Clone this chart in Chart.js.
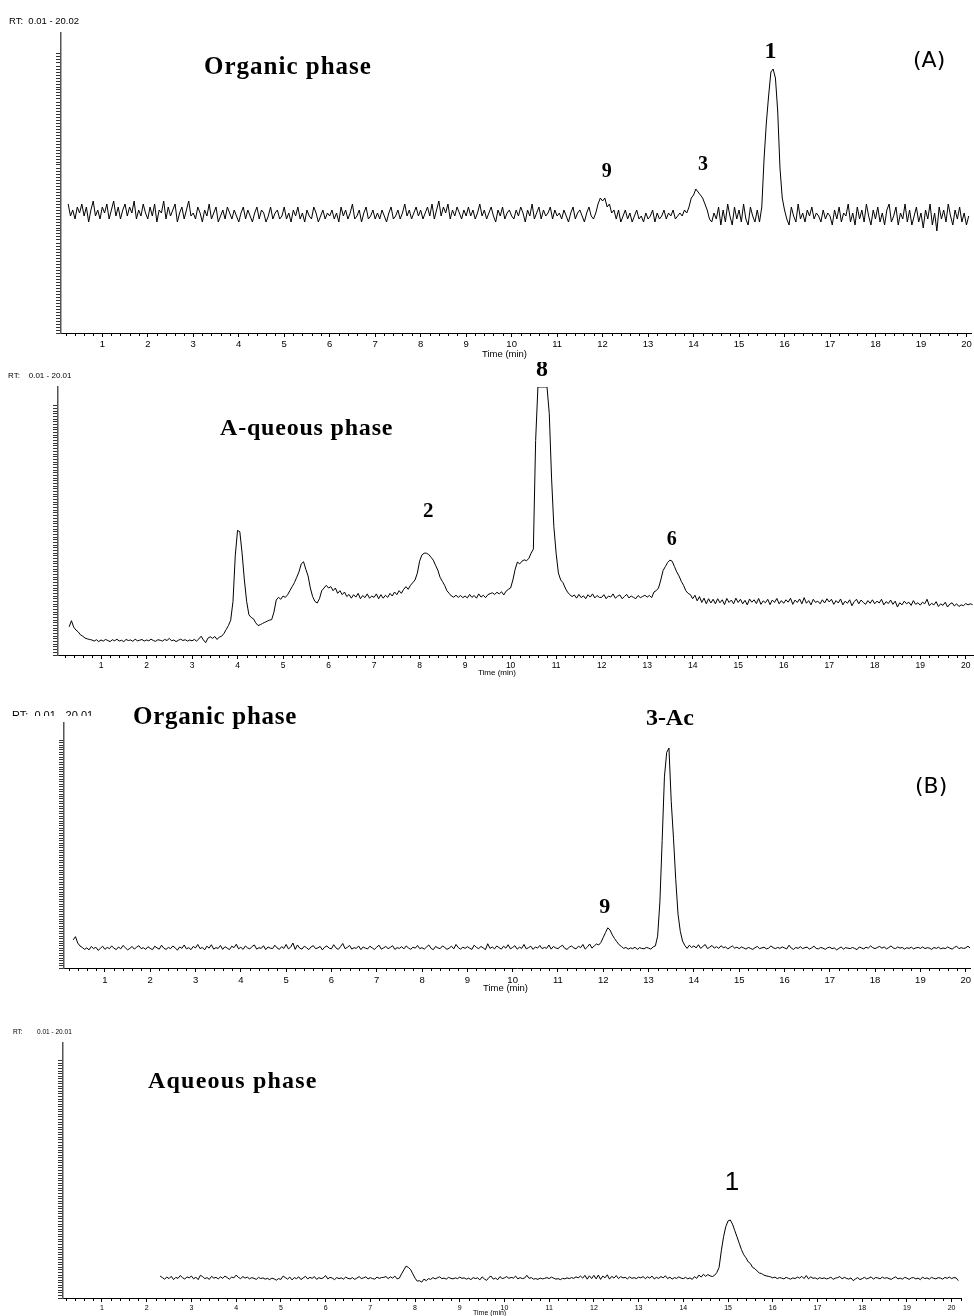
<!DOCTYPE html>
<html><head><meta charset="utf-8">
<script src="https://cdn.jsdelivr.net/npm/chart.js@4.4.1/dist/chart.umd.min.js"></script>
<style>
html,body{margin:0;padding:0;background:#fff;}
#wrap{position:relative;width:974px;height:1316px;overflow:hidden;background:#fff;}
canvas{position:absolute;left:0;}
</style></head><body>
<div id="wrap">
<canvas id="c1" width="974" height="362" style="top:0px"></canvas>
<canvas id="c2" width="974" height="318" style="top:362px"></canvas>
<canvas id="c3" width="974" height="298" style="top:700px"></canvas>
<canvas id="c4" width="974" height="308" style="top:1008px"></canvas>
</div>
<script>
// ---------------- DATA ----------------
// sampling step (min) shared by all traces
const STEP = 0.05;
// x tick labels (Time, min)
const timeTicks = [1,2,3,4,5,6,7,8,9,10,11,12,13,14,15,16,17,18,19,20];

// (A) Organic phase: relative abundance, starting at 0.25 min
const orgA_start = 0.25;
const orgA = [
43,39,41,38,42,40,43,39,42,37,41,44,39,41,38,
42,40,43,38,41,44,39,42,38,41,43,39,42,40,44,38,41,39,43,40,
38,42,39,43,37,41,40,44,38,42,39,41,43,37,40,42,38,41,44,39,
40,38,42,40,37,41,39,43,38,40,42,37,39,41,38,42,40,38,41,39,
37,40,42,38,41,39,37,40,42,38,41,40,37,39,42,38,40,41,38,39,
42,38,40,37,41,39,42,38,40,37,41,39,38,42,40,37,39,41,38,40,
39,41,38,40,37,42,39,41,38,40,43,38,39,41,37,40,42,38,39,41,
38,40,38,41,39,37,40,42,38,39,41,38,40,43,39,41,38,40,42,39,
41,38,40,42,39,43,38,41,44,39,42,40,43,38,41,39,42,40,38,41,
39,42,39,41,38,40,43,39,41,38,40,42,39,37,41,39,42,38,40,41,
39,38,41,39,42,40,37,41,39,43,38,40,42,38,41,39,40,42,38,41,
39,40,38,41,39,37,40,42,38,40,41,39,37,40,42,39,38,40,43,45,
44,45,42,43,40,41,38,41,37,39,41,38,40,37,39,41,38,39,37,40,
38,39,41,37,40,38,39,41,38,40,39,41,38,39,40,39,41,40,42,45,
46,48,47,46,45,43,41,38,37,40,38,42,36,41,37,43,39,36,42,38,
41,37,43,38,36,42,39,37,41,37,42,58,70,79,87,88,85,74,55,45,
41,38,36,42,39,37,43,38,40,37,41,39,42,38,40,39,37,41,38,40,
39,36,41,38,42,37,40,39,43,37,40,36,42,38,41,37,43,39,36,41,
38,42,37,40,36,41,43,37,39,42,36,40,38,43,37,41,36,39,42,37,
40,35,41,38,43,36,40,34,42,38,41,37,43,39,36,41,38,42,37,40,
36,39
];

// (A) Aqueous phase, starting at 0.30 min (peak 8 is off-scale)
const aqA_start = 0.30;
const aqA = [
10.5,12.8,10.4,9.3,8.6,7.5,7.0,6.3,6.0,5.8,5.6,5.2,5.7,5.0,
5.6,5.2,5.8,5.4,5.0,5.7,5.3,5.9,5.2,5.5,5.0,5.8,5.4,5.6,5.1,5.9,5.3,5.5,5.8,5.2,
5.6,5.3,5.9,5.4,5.1,5.7,5.5,5.2,5.8,5.4,6.2,5.3,5.6,5.0,5.5,5.9,5.4,5.7,5.2,5.6,
5.3,5.8,5.2,6.0,7.0,5.6,4.6,6.3,6.8,6.2,6.9,5.8,6.7,7.0,8.0,9.5,11,13,20,37,
46.5,46,38,28,20,15,14,13.5,12,11,11.3,11.8,12.2,12.6,13,13.2,16,20.5,21.5,20.8,
22,21.5,22.5,24,25.5,27,29,31,34,34.8,32,29.5,25,21.8,20,19.4,21,24,25,26,
25,25.5,24,25,23,24,22.5,23.5,21.8,22.6,21.2,22.5,21.6,23,21,22.2,21.4,22.8,21.2,22,
21.5,22.8,21,22.5,21.2,22.3,21.5,23,22,23.5,22.5,24,23,24.5,25.5,24.5,26,27,28,30.5,
35,37.3,38,38,37.5,36.5,35.4,33.5,31.7,29,27.5,26,24,23,22,21.6,22.3,21.5,22.2,21.4,
22,21.3,22.6,21.5,22.2,21.2,22.8,21.6,22.3,21.4,22.5,22.9,23.2,22.6,23.4,22.8,23.6,22.4,23.8,24.5,
25,28,32,34.7,34,35,35.5,35.2,36,38,39.5,80,100,100,100,100,100,90,66,48,
38,30.6,28,27,25,23.5,22.5,21.8,22.4,21.2,22.6,21.4,22.1,21,22.5,21.6,22.8,21.3,22.2,21.5,
21.5,22.5,21,22,21.6,22.8,21.2,21.9,22.4,21,21.8,22.6,21.3,22,21.5,21,22.2,21.4,21.8,22.3,
21.6,22.2,21.4,23.5,24,25,28,31.5,33,34.5,35.4,35,33,31,29.5,27.5,26,24,23,22.5,
21,22.3,20.2,21.8,19.6,21.2,19.1,21,19.4,20.8,19.1,21,19.5,20.6,18.8,21.1,19.6,20.5,19.1,21.2,
19.6,20.8,19.1,20.4,18.7,20.9,19.7,20.6,19.2,21.1,18.9,20.2,19.5,20.8,18.8,20.5,19.6,21.1,19.1,20.3,
19.3,20.6,19.7,21.2,18.9,20.5,19.6,20.9,19.1,21.4,19.3,20.3,18.7,20.8,19.6,20.1,19.1,20.6,19.4,21,
19.8,20.8,18.9,20.3,19.4,20.9,18.7,20.1,19.3,20.6,18.4,19.9,20.8,19.1,20.5,19.6,18.9,20.3,19.3,20.6,
19.1,20.1,19.4,20.8,18.7,19.9,19.2,20.5,18.9,20.1,17.9,19.5,18.7,20.1,19.1,19.7,18.5,20.3,18.9,19.5,
18.6,19.7,19.1,20.8,18.4,19.3,18.7,19.9,18.1,19.1,18.5,19.7,17.9,19,19.5,18.3,19.1,18.1,18.7,18.4,
19.2,18.7,19.1,18.8
];

// (B) Organic phase, starting at 0.30 min
const orgB_start = 0.30;
const orgB = [
11.5,12.8,10.2,9.0,8.4,7.6,8.2,7.4,8.8,7.9,8.5,7.2,8.0,8.9,
7.6,8.4,7.9,9.0,8.1,7.5,8.6,7.8,9.2,8.3,7.4,8.0,8.8,7.7,8.5,9.1,7.9,8.3,7.6,8.7,
8.0,7.5,8.9,8.2,7.7,9.3,8.1,7.6,8.4,7.9,9.0,8.2,7.3,8.6,8.0,9.4,7.8,8.3,7.5,8.8,
8.2,9.6,7.9,8.4,7.4,8.9,8.1,9.5,7.7,8.3,8.0,9.2,7.6,8.7,8.1,7.5,8.9,8.3,9.7,7.8,
8.5,7.6,9.0,8.2,7.8,8.8,9.4,7.7,8.3,8.0,9.1,7.5,8.6,8.1,7.9,9.3,8.2,7.6,8.7,8.0,
9.6,7.8,8.5,10.2,7.6,9.4,8.1,7.7,8.9,8.3,7.5,8.6,9.1,7.9,8.2,8.8,7.4,8.5,9.0,8.1,
7.8,9.5,8.2,7.6,8.7,10.0,7.9,8.4,9.2,7.7,8.3,8.0,9.0,7.5,8.6,8.1,7.8,8.9,8.2,7.6,
8.5,9.3,7.7,8.2,8.8,7.9,8.4,9.1,7.6,8.3,8.0,8.7,7.8,9.0,8.2,7.6,8.5,8.1,9.2,7.9,
8.3,7.7,8.6,9.4,8.0,7.5,8.8,8.2,7.9,9.0,8.4,7.6,8.1,8.9,7.8,9.6,8.3,7.7,8.5,8.0,
8.7,8.1,7.6,9.3,8.4,7.9,8.8,8.2,7.5,9.9,8.0,8.6,7.8,9.0,8.3,7.7,8.9,8.1,9.5,7.8,
8.4,9.1,7.7,8.5,8.0,9.6,7.8,8.3,8.9,7.6,8.6,8.1,9.2,7.9,8.4,8.0,9.4,7.7,8.8,8.2,
7.9,8.7,9.3,8.0,7.6,8.5,9.0,8.2,7.8,8.9,8.3,9.6,7.7,8.6,9.8,8.1,9.0,9.8,9.4,10.5,
12.5,14.5,16.4,15.5,13.5,12.0,10.7,9.5,8.8,8.0,8.4,7.7,8.2,7.9,8.5,7.6,8.3,8.0,7.8,8.4,
8.1,7.7,8.6,9.0,13,27,52,78,88,89.8,68,53,36,22,15,11,9.2,8.0,9.3,8.4,
9.0,8.2,9.5,8.0,8.8,9.6,7.9,8.5,9.2,8.1,8.7,8.0,9.1,8.3,8.6,7.8,8.4,9.0,8.1,8.5,
7.9,8.6,8.2,7.7,8.4,8.0,7.6,8.3,8.8,7.9,8.2,8.5,7.8,8.1,9.0,8.3,7.9,8.4,8.0,8.6,
8.2,7.8,9.3,8.1,7.6,8.4,8.0,8.7,7.9,8.3,8.5,7.7,8.2,8.9,8.0,7.8,8.4,8.1,7.6,8.3,
8.5,7.9,8.2,7.4,8.0,8.6,7.7,8.3,8.1,7.9,8.4,8.0,7.5,8.6,8.2,7.8,8.5,8.1,9.0,8.3,
7.9,8.4,8.8,8.1,8.6,7.8,8.3,9.0,8.2,7.9,8.6,8.1,8.4,7.7,8.3,8.0,8.5,7.8,8.2,8.4,
8.0,8.6,7.9,8.3,8.1,7.6,8.4,8.0,8.5,7.8,8.2,7.9,8.6,8.1,7.7,8.4,8.9,7.9,8.3,8.0,
8.2,8.9,8.1
];

// (B) Aqueous phase, starting at 2.30 min
const aqB_start = 2.30;
const aqB = [
8.6,8.0,7.4,8.2,7.6,8.5,7.2,8.1,7.7,8.8,8.0,7.4,8.3,7.9,
8.6,7.5,8.2,7.2,8.9,8.4,7.6,8.0,7.3,8.5,7.8,8.1,7.5,8.3,7.7,8.6,8.0,7.4,8.2,7.9,
9.0,8.1,7.6,8.4,7.8,8.2,7.5,8.0,7.7,7.3,8.1,7.6,7.9,7.4,7.7,7.2,7.8,7.5,7.0,7.6,
7.3,8.6,8.0,7.4,8.2,7.1,8.0,7.6,8.3,7.2,7.9,8.5,7.5,8.1,7.7,8.4,7.3,8.0,7.6,7.9,
8.8,7.5,8.1,7.8,7.2,8.0,7.6,7.9,7.4,8.2,7.7,7.5,8.0,7.3,7.8,8.4,7.6,7.9,8.3,7.5,
8.0,7.6,7.4,8.2,7.7,8.0,8.1,8.4,7.6,8.3,7.8,8.6,7.5,7.8,9.5,11,12.5,12,11.2,9.5,
7.8,6.6,6.8,6.2,7.4,6.8,7.6,7.3,8.0,7.5,7.9,8.3,7.6,7.8,7.4,8.1,7.7,7.5,7.9,7.6,
8.2,7.7,7.9,7.4,7.8,7.2,8.0,7.6,7.9,7.1,8.3,7.5,6.9,8.0,8.6,7.4,7.8,7.2,8.4,7.6,
7.9,8.4,7.7,8.1,7.8,8.6,7.5,8.0,7.6,7.8,8.9,7.7,8.0,7.4,7.6,7.3,7.8,7.5,7.7,8.0,
7.6,8.2,7.8,7.4,7.6,7.2,7.7,7.5,7.9,7.6,8.0,7.7,8.3,7.9,8.6,7.8,8.9,7.4,8.7,7.6,
8.9,7.5,9.0,7.3,8.6,7.9,9.1,7.4,8.5,7.8,8.8,7.6,8.4,7.9,8.1,7.5,8.3,7.7,8.0,7.6,
8.2,7.9,8.4,7.6,8.3,7.8,8.6,7.5,8.1,7.7,8.4,7.9,8.7,7.6,8.2,7.4,8.0,7.7,8.3,7.8,
7.6,8.1,7.5,7.9,7.3,8.4,7.7,9.0,8.2,9.3,8.5,9.2,8.7,8.4,8.9,10,12,18.5,24,28,
30.2,30.6,29,26.5,24,21.5,19,17,15.8,14.2,13.5,12,11.5,10.6,9.8,9.6,9.0,8.7,8.5,8.3,
7.9,8.2,7.6,8.0,7.8,7.5,8.1,7.7,7.4,7.9,7.6,8.2,7.8,8.5,7.6,8.8,7.5,8.3,7.7,7.9,
7.4,8.0,7.6,7.9,7.5,7.7,8.2,7.3,7.8,8.0,8.4,7.5,8.1,7.7,7.4,7.9,6.8,7.5,8.0,7.2,
7.6,8.1,7.5,7.8,8.3,7.4,8.0,7.9,7.5,8.2,7.7,8.0,7.6,7.3,7.9,8.3,7.5,7.8,7.4,8.1,
7.8,7.3,7.9,8.0,7.5,7.8,7.2,8.2,7.6,7.9,7.4,8.1,7.7,7.5,8.0,7.8,7.4,8.1,7.7,8.2,
7.6,8.0,7.9,6.8
];

// ---------------- RENDERING ----------------
const SERIF = '"Liberation Serif", "Times New Roman", serif';
const SANS = '"Liberation Sans", Arial, sans-serif';
const DSANS = '"DejaVu Sans", "Liberation Sans", sans-serif';

function sampleTimes(start, n) {
  return Array.from({length: n}, (_, i) => Math.round((start + i * STEP) * 100) / 100);
}

function makeOverlay(texts, minorLen) {
  return {
    id: 'overlay',
    afterDraw(chart) {
      const ctx = chart.ctx, xs = chart.scales.x, ys = chart.scales.y;
      ctx.save();
      ctx.strokeStyle = '#000';
      ctx.lineWidth = 1;
      ctx.beginPath();
      for (let k = Math.ceil(xs.min * 5 - 1e-9); k <= xs.max * 5 + 1e-9; k++) {
        if (k % 5 === 0) continue;
        const px = Math.round(xs.getPixelForValue(k / 5)) + 0.5;
        ctx.moveTo(px, xs.top);
        ctx.lineTo(px, xs.top + minorLen);
      }
      ctx.stroke();
      for (const it of texts) {
        ctx.save();
        ctx.font = it.font;
        ctx.fillStyle = '#000';
        ctx.textAlign = it.align || 'left';
        ctx.textBaseline = 'alphabetic';
        if ('letterSpacing' in ctx) ctx.letterSpacing = (it.ls || 0) + 'px';
        const x = it.t !== undefined ? xs.getPixelForValue(it.t) : it.x;
        const y = it.v !== undefined ? ys.getPixelForValue(it.v) : it.y;
        if (it.clipY !== undefined) { ctx.beginPath(); ctx.rect(0, 0, chart.width, it.clipY); ctx.clip(); }
        ctx.fillText(it.text, x, y);
        ctx.restore();
      }
      ctx.restore();
    }
  };
}

function build(id, vals, start, g, texts) {
  const ts = sampleTimes(start, vals.length);
  return new Chart(document.getElementById(id), {
    type: 'line',
    data: { datasets: [{
      data: ts.map((t, i) => ({x: t, y: vals[i]})),
      borderColor: '#000', borderWidth: 1, pointRadius: 0, tension: 0, fill: false
    }]},
    options: {
      responsive: false, animation: false, devicePixelRatio: 1, events: [],
      layout: { padding: { top: g.padT, left: 0, right: g.padR, bottom: 0 } },
      plugins: { legend: { display: false }, tooltip: { enabled: false } },
      scales: {
        x: {
          type: 'linear', min: g.xmin, max: g.xmax,
          afterBuildTicks: s => { s.ticks = timeTicks.filter(v => v >= s.min && v <= s.max).map(v => ({value: v})); },
          ticks: { stepSize: 1, includeBounds: false, autoSkip: false, maxRotation: 0, padding: g.tickPad,
                   color: '#000', font: { family: SANS, size: g.tickFont } },
          grid: { display: true, drawOnChartArea: false, drawTicks: true, tickLength: 4, color: '#000', lineWidth: 1 },
          border: { display: true, color: '#000', width: 1 },
          afterFit: s => { s.height = g.axisH; }
        },
        y: {
          type: 'linear', min: 0, max: 100,
          afterBuildTicks: s => { s.ticks = s.ticks.filter(t => t.value <= 93); },
          ticks: { stepSize: 1, autoSkip: false, maxTicksLimit: 1000, padding: 0,
                   callback: () => '', font: { size: 1 } },
          grid: { display: true, drawOnChartArea: false, drawTicks: true, tickLength: 5, color: '#333', lineWidth: 1 },
          border: { display: true, color: '#555', width: 1.5 },
          afterFit: s => { s.width = g.axisW; }
        }
      }
    },
    plugins: [makeOverlay(texts, 3)]
  });
}

// Panel 1: (A) organic phase
build('c1', orgA, orgA_start,
  { padT: 33, padR: 3, axisW: 61, axisH: 29, xmin: 0.092, xmax: 20.10, tickFont: 9.5, tickPad: 2 },
  [
    { text: 'RT:  0.01 - 20.02', x: 9, y: 24, font: '9.5px ' + SANS },
    { text: 'Organic phase', x: 204, y: 74, font: 'bold 25px ' + SERIF, ls: 1 },
    { text: '1', t: 15.69, v: 91.7, align: 'center', font: 'bold 24px ' + SERIF },
    { text: '9', t: 12.09, v: 52, align: 'center', font: 'bold 20px ' + SERIF },
    { text: '3', t: 14.21, v: 54.3, align: 'center', font: 'bold 20px ' + SERIF },
    { text: '(A)', x: 913, y: 67, font: '22px ' + DSANS },
    { text: 'Time (min)', x: 482, y: 357, font: '9.5px ' + SANS }
  ]);

// Panel 2: (A) aqueous phase
build('c2', aqA, aqA_start,
  { padT: 25, padR: 1, axisW: 58, axisH: 25, xmin: 0.055, xmax: 20.16, tickFont: 8.5, tickPad: 2 },
  [
    { text: 'RT:    0.01 - 20.01', x: 8, y: 16, font: '8px ' + SANS },
    { text: 'A-queous phase', x: 220, y: 73, font: 'bold 24px ' + SERIF, ls: 0.8 },
    { text: '8', t: 10.69, v: 104, align: 'center', font: 'bold 24px ' + SERIF },
    { text: '2', t: 8.19, v: 51.5, align: 'center', font: 'bold 21px ' + SERIF },
    { text: '6', t: 13.54, v: 41, align: 'center', font: 'bold 20px ' + SERIF },
    { text: 'Time (min)', x: 478, y: 313, font: '8px ' + SANS }
  ]);

// Panel 3: (B) organic phase
build('c3', orgB, orgB_start,
  { padT: 23, padR: 2, axisW: 64, axisH: 30, xmin: 0.097, xmax: 20.10, tickFont: 9.5, tickPad: 3 },
  [
    { text: 'RT:  0.01 - 20.01', x: 12, y: 19, font: '11px ' + SANS, clipY: 16 },
    { text: 'Organic phase', x: 133, y: 24, font: 'bold 25px ' + SERIF, ls: 0.7 },
    { text: '3-Ac', t: 13.47, v: 99, align: 'center', font: 'bold 24px ' + SERIF },
    { text: '9', t: 12.03, v: 22.4, align: 'center', font: 'bold 22px ' + SERIF },
    { text: '(B)', x: 915, y: 93, font: '22px ' + DSANS },
    { text: 'Time (min)', x: 483, y: 291, font: '9.5px ' + SANS }
  ]);

// Panel 4: (B) aqueous phase
build('c4', aqB, aqB_start,
  { padT: 35, padR: 13, axisW: 63, axisH: 18, xmin: 0.128, xmax: 20.21, tickFont: 7, tickPad: 2 },
  [
    { text: 'RT:        0.01 - 20.01', x: 13, y: 26, font: '6.5px ' + SANS },
    { text: 'Aqueous phase', x: 148, y: 80, font: 'bold 24px ' + SERIF, ls: 1.2 },
    { text: '1', t: 15.09, v: 42.4, align: 'center', font: '26px ' + SANS },
    { text: 'Time (min)', x: 473, y: 307, font: '7px ' + SANS }
  ]);
</script>
</body></html>
